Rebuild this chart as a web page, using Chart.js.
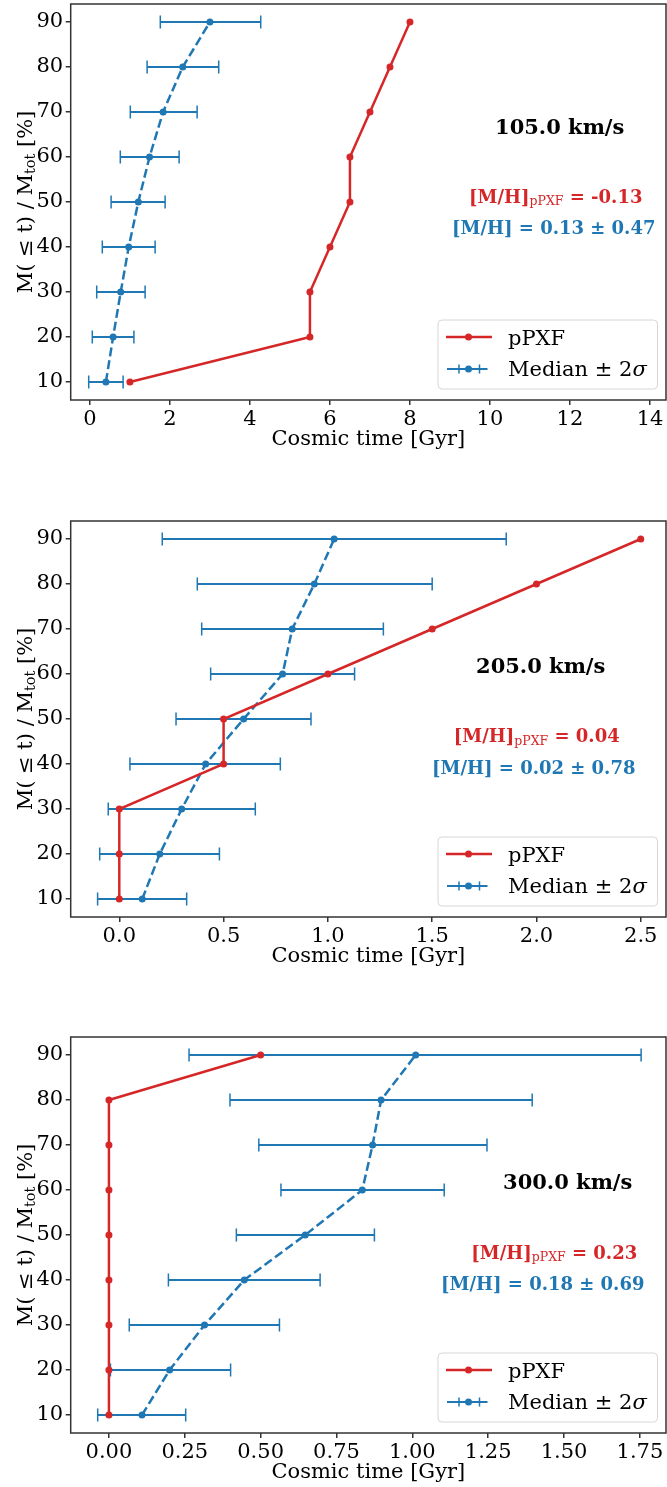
<!DOCTYPE html>
<html>
<head>
<meta charset="utf-8">
<script src="https://cdn.jsdelivr.net/npm/chart.js@4.4.1/dist/chart.umd.min.js"></script>
<style>
  html, body { margin: 0; padding: 0; background: #fff; overflow: hidden; }
  .painel { position: absolute; left: 0; width: 667px; height: 452px; }
</style>
</head>
<body>
<div class="painel" style="top:0px"><canvas id="g1"></canvas></div>
<div class="painel" style="top:516.7px"><canvas id="g2"></canvas></div>
<div class="painel" style="top:1033.3px"><canvas id="g3"></canvas></div>
<script>
// Niveis de massa acumulada (%)
const niveis = [10, 20, 30, 40, 50, 60, 70, 80, 90];
const yTicks = [10, 20, 30, 40, 50, 60, 70, 80, 90];

// Painel 1: 105 km/s
const ppxf1 = [1.0, 5.5, 5.5, 6.0, 6.5, 6.5, 7.0, 7.5, 8.0];
const med1  = [0.40, 0.58, 0.77, 0.97, 1.21, 1.49, 1.83, 2.32, 3.00];
const lo1   = [-0.03, 0.06, 0.17, 0.31, 0.53, 0.76, 1.01, 1.43, 1.76];
const hi1   = [0.83, 1.10, 1.38, 1.63, 1.88, 2.23, 2.68, 3.22, 4.27];
const xTicks1 = [0, 2, 4, 6, 8, 10, 12, 14];
const xLabels1 = ['0', '2', '4', '6', '8', '10', '12', '14'];

// Painel 2: 205 km/s
const ppxf2 = [0.0, 0.0, 0.0, 0.5, 0.5, 1.0, 1.5, 2.0, 2.5];
const med2  = [0.11, 0.194, 0.299, 0.414, 0.596, 0.783, 0.829, 0.935, 1.03];
const lo2   = [-0.104, -0.094, -0.053, 0.051, 0.272, 0.438, 0.395, 0.374, 0.206];
const hi2   = [0.323, 0.48, 0.652, 0.772, 0.919, 1.128, 1.266, 1.50, 1.855];
const xTicks2 = [0, 0.5, 1.0, 1.5, 2.0, 2.5];
const xLabels2 = ['0.0', '0.5', '1.0', '1.5', '2.0', '2.5'];

// Painel 3: 300 km/s
const ppxf3 = [0.0, 0.0, 0.0, 0.0, 0.0, 0.0, 0.0, 0.0, 0.5];
const med3  = [0.109, 0.20, 0.315, 0.446, 0.647, 0.835, 0.869, 0.897, 1.011];
const lo3   = [-0.037, 0.005, 0.067, 0.196, 0.42, 0.567, 0.494, 0.399, 0.264];
const hi3   = [0.253, 0.401, 0.562, 0.696, 0.875, 1.105, 1.246, 1.395, 1.754];
const xTicks3 = [0, 0.25, 0.5, 0.75, 1.0, 1.25, 1.5, 1.75];
const xLabels3 = ['0.00', '0.25', '0.50', '0.75', '1.00', '1.25', '1.50', '1.75'];

// Textos das anotacoes
const velocidades = ['105.0 km/s', '205.0 km/s', '300.0 km/s'];
const mhPpxf = ['-0.13', '0.04', '0.23'];
const mhMed = ['0.13 \u00b1 0.47', '0.02 \u00b1 0.78', '0.18 \u00b1 0.69'];

const VERMELHO = '#d62728';
const AZUL = '#1f77b4';
const SERIF = "'DejaVu Serif', serif";

// limites do eixo x e posicao dos textos (relativa ao chartArea)
const paineis = [
  { ppxf: ppxf1, med: med1, lo: lo1, hi: hi1, xt: xTicks1, xl: xLabels1, xmin: -0.48, xmax: 14.4,
    txt: { vel: [489, 130], red: [485, 198.5], blue: [483, 229.5] } },
  { ppxf: ppxf2, med: med2, lo: lo2, hi: hi2, xt: xTicks2, xl: xLabels2, xmin: -0.233, xmax: 2.621,
    txt: { vel: [470, 151.5], red: [466, 221], blue: [463, 252.5] } },
  { ppxf: ppxf3, med: med3, lo: lo3, hi: hi3, xt: xTicks3, xl: xLabels3, xmin: -0.126, xmax: 1.836,
    txt: { vel: [497, 152], red: [483.5, 221.5], blue: [472, 253] } }
];

// escreve pedacos de texto com fontes diferentes, centrado em cx
function escreve(ctx, partes, cx, y, cor) {
  let total = 0;
  partes.forEach(p => { ctx.font = p.f; p.w = ctx.measureText(p.t).width; total += p.w; });
  let x = cx - total / 2;
  ctx.fillStyle = cor;
  ctx.textAlign = 'left';
  ctx.textBaseline = 'alphabetic';
  partes.forEach(p => { ctx.font = p.f; ctx.fillText(p.t, x, y + (p.dy || 0)); x += p.w; });
}

const extras = {
  id: 'extras',
  afterDraw(chart) {
    const ctx = chart.ctx;
    const a = chart.chartArea;
    const cfg = chart.options.plugins.extras;
    ctx.save();

    // moldura
    ctx.strokeStyle = '#333';
    ctx.lineWidth = 1.5;
    ctx.strokeRect(a.left, a.top, a.right - a.left, a.bottom - a.top);

    // rotulo do eixo y
    ctx.save();
    ctx.translate(31.5, (a.top + a.bottom) / 2);
    ctx.rotate(-Math.PI / 2);
    escreve(ctx, [
      { t: 'M( \u2264 t) / M', f: '21px ' + SERIF },
      { t: 'tot', f: '14.5px ' + SERIF, dy: 3 },
      { t: ' [%]', f: '21px ' + SERIF }
    ], 0, 0, '#000');
    ctx.restore();

    // anotacoes
    const t = cfg.txt;
    escreve(ctx, [{ t: cfg.vel, f: 'bold 21px ' + SERIF }], a.left + t.vel[0], a.top + t.vel[1], '#000');
    escreve(ctx, [
      { t: '[M/H]', f: 'bold 18px ' + SERIF },
      { t: 'pPXF', f: '12.5px ' + SERIF, dy: 2.5 },
      { t: ' = ' + cfg.mh1, f: 'bold 18px ' + SERIF }
    ], a.left + t.red[0], a.top + t.red[1], VERMELHO);
    escreve(ctx, [{ t: '[M/H] = ' + cfg.mh2, f: 'bold 18px ' + SERIF }], a.left + t.blue[0], a.top + t.blue[1], AZUL);

    // legenda
    const bx = a.right - 228, by = a.bottom - 80, bw = 219.5, bh = 69;
    ctx.beginPath();
    ctx.roundRect(bx, by, bw, bh, 4);
    ctx.fillStyle = 'rgba(255,255,255,0.8)';
    ctx.fill();
    ctx.strokeStyle = '#d6d6d6';
    ctx.lineWidth = 1;
    ctx.stroke();

    const y1 = by + 17, y2 = by + 49;
    ctx.strokeStyle = VERMELHO;
    ctx.lineWidth = 2.5;
    ctx.beginPath(); ctx.moveTo(bx + 8, y1); ctx.lineTo(bx + 54, y1); ctx.stroke();
    ctx.fillStyle = VERMELHO;
    ctx.beginPath(); ctx.arc(bx + 30.5, y1, 3.5, 0, Math.PI * 2); ctx.fill();

    ctx.strokeStyle = AZUL;
    ctx.lineWidth = 2;
    ctx.beginPath(); ctx.moveTo(bx + 9, y2); ctx.lineTo(bx + 49.5, y2); ctx.stroke();
    ctx.lineWidth = 1.5;
    ctx.beginPath();
    ctx.moveTo(bx + 21, y2 - 4.5); ctx.lineTo(bx + 21, y2 + 4.5);
    ctx.moveTo(bx + 41.5, y2 - 4.5); ctx.lineTo(bx + 41.5, y2 + 4.5);
    ctx.stroke();
    ctx.fillStyle = AZUL;
    ctx.beginPath(); ctx.arc(bx + 30.5, y2, 3.5, 0, Math.PI * 2); ctx.fill();

    ctx.fillStyle = '#000';
    ctx.textAlign = 'left';
    ctx.font = '21px ' + SERIF;
    ctx.fillText('pPXF', bx + 70, by + 25);
    const s = 'Median \u00b1 2';
    ctx.fillText(s, bx + 70, by + 56);
    const w = ctx.measureText(s).width;
    ctx.font = 'italic 21px ' + SERIF;
    ctx.fillText('\u03c3', bx + 70 + w, by + 56);

    ctx.restore();
  }
};

function grafico(id, i) {
  const p = paineis[i];
  const fonte = { family: SERIF, size: 21 };
  const datasets = [
    { label: 'pPXF', data: niveis.map((y, k) => ({ x: p.ppxf[k], y })), showLine: true,
      borderColor: VERMELHO, borderWidth: 2.5, pointRadius: 3.5, pointBorderWidth: 0,
      pointBackgroundColor: VERMELHO },
    { label: 'Median \u00b1 2\u03c3', data: niveis.map((y, k) => ({ x: p.med[k], y })), showLine: true,
      borderColor: AZUL, borderWidth: 2.5, borderDash: [9, 4], pointRadius: 3.5, pointBorderWidth: 0,
      pointBackgroundColor: AZUL }
  ];
  // barras de erro: uma linha por nivel, com tampas verticais
  niveis.forEach((y, k) => {
    datasets.push({
      data: [{ x: p.lo[k], y }, { x: p.hi[k], y }], showLine: true,
      borderColor: AZUL, borderWidth: 2, pointStyle: 'line', pointRotation: 90,
      pointRadius: 6.5, pointBorderColor: AZUL, pointBorderWidth: 1.5
    });
  });

  return new Chart(document.getElementById(id), {
    type: 'scatter',
    data: { datasets },
    options: {
      responsive: true,
      maintainAspectRatio: false,
      animation: false,
      events: [],
      layout: { autoPadding: false, padding: { top: 4, right: 1, left: 0, bottom: 0 } },
      plugins: {
        legend: { display: false },
        tooltip: { enabled: false },
        extras: { txt: p.txt, vel: velocidades[i], mh1: mhPpxf[i], mh2: mhMed[i] }
      },
      scales: {
        x: {
          type: 'linear', min: p.xmin, max: p.xmax,
          afterBuildTicks: s => { s.ticks = p.xt.map(v => ({ value: v })); },
          afterFit: s => { s.height = 52; s.paddingLeft = 0; s.paddingRight = 0; },
          ticks: { callback: (v, k) => p.xl[k], font: fonte, color: '#000', padding: 2, autoSkip: false, maxRotation: 0 },
          grid: { drawOnChartArea: false, tickLength: 5, color: '#333', lineWidth: 1.5 },
          border: { display: false },
          title: { display: true, text: 'Cosmic time [Gyr]', font: fonte, color: '#000', padding: { top: 0, bottom: 0 } }
        },
        y: {
          type: 'linear', min: 6, max: 94,
          afterBuildTicks: s => { s.ticks = yTicks.map(v => ({ value: v })); },
          afterFit: s => { s.width = 70.7; s.paddingTop = 0; s.paddingBottom = 0; },
          ticks: { font: fonte, color: '#000', padding: 2.5, autoSkip: false },
          grid: { drawOnChartArea: false, tickLength: 5, color: '#333', lineWidth: 1.5 },
          border: { display: false }
        }
      }
    },
    plugins: [extras]
  });
}

grafico('g1', 0);
grafico('g2', 1);
grafico('g3', 2);
</script>
</body>
</html>
